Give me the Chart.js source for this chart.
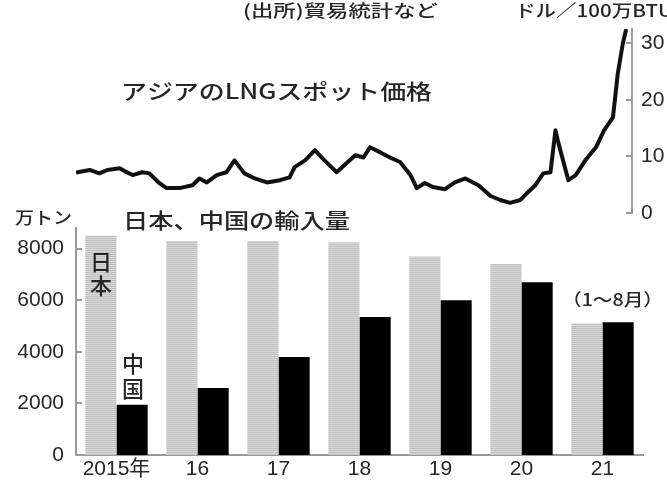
<!DOCTYPE html>
<html>
<head>
<meta charset="utf-8">
<script src="https://cdn.jsdelivr.net/npm/chart.js@4.4.0/dist/chart.umd.min.js"></script>
<style>
  html, body { margin: 0; padding: 0; background: #fff; }
  #wrap { position: relative; width: 667px; height: 486px; overflow: hidden; }
  #wrap canvas { position: absolute; left: 0; top: 0; }
  #price { pointer-events: none; }
</style>
</head>
<body>
<div id="wrap">
  <canvas id="imports" width="667" height="486"></canvas>
  <canvas id="price" width="667" height="486"></canvas>
</div>
<script>
// LNG imports, 10k tonnes
const years = ['2015年', '16', '17', '18', '19', '20', '21'];
const japanImports = [8500, 8300, 8300, 8250, 7700, 7400, 5100];
const chinaImports = [1950, 2600, 3800, 5350, 6000, 6700, 5150];
const importTicks = [0, 2000, 4000, 6000, 8000];

// Asian LNG spot price, $/mmBtu
const priceDates = [
  '2015-01-08', '2015-03-02', '2015-04-15', '2015-05-21', '2015-07-15', '2015-08-07', '2015-09-13', '2015-10-26', '2015-11-28',
  '2016-01-11', '2016-02-14', '2016-04-11', '2016-06-09', '2016-07-10', '2016-08-13', '2016-09-27', '2016-11-10', '2016-12-16',
  '2017-01-30', '2017-03-16', '2017-05-10', '2017-07-08', '2017-08-21', '2017-09-13', '2017-10-30', '2017-12-13',
  '2018-01-26', '2018-03-20', '2018-05-18', '2018-06-13', '2018-07-19', '2018-08-18', '2018-10-04', '2018-11-17',
  '2019-01-01', '2019-02-18', '2019-03-16', '2019-04-22', '2019-05-28', '2019-07-22', '2019-09-05', '2019-10-22', '2019-12-20',
  '2020-02-14', '2020-03-27', '2020-05-10', '2020-06-27', '2020-07-26', '2020-09-02', '2020-10-08', '2020-11-10', '2020-12-02', '2020-12-16',
  '2021-01-30', '2021-03-02', '2021-04-15', '2021-06-02', '2021-07-08', '2021-08-18', '2021-09-09', '2021-10-01', '2021-10-15'
];
const priceValues = [
  7.2, 7.6, 7.0, 7.6, 7.9, 7.4, 6.7, 7.2, 7.0,
  5.3, 4.4, 4.4, 4.9, 6.1, 5.4, 6.7, 7.2, 9.3,
  7.0, 6.1, 5.4, 5.8, 6.3, 8.1, 9.3, 11.1,
  9.3, 7.2, 9.3, 10.2, 9.8, 11.6, 10.7, 9.8,
  9.0, 6.7, 4.4, 5.3, 4.6, 4.2, 5.4, 6.1, 4.9,
  3.0, 2.3, 1.8, 2.3, 3.5, 4.9, 7.0, 7.2, 14.6, 12.3,
  5.8, 6.7, 9.3, 11.6, 14.6, 16.9, 24.6, 29.9, 32.2
];
const priceTicks = [0, 10, 20, 30];

const CJK = '"Noto Sans CJK JP", "Noto Sans", sans-serif';
const NUM = '"Liberation Sans", "Noto Sans CJK JP", Arial, sans-serif';
const TEXT = '#262626';
const AXIS = '#9a9a9a';

const toYear = s => {
  const [y, m, d] = s.split('-').map(Number);
  return y + (m - 1 + (d - 1) / 31) / 12;
};

function stripes() {
  const c = document.createElement('canvas');
  c.width = 1; c.height = 2;
  const g = c.getContext('2d');
  g.fillStyle = '#c2c2c2'; g.fillRect(0, 0, 1, 1);
  g.fillStyle = '#d6d6d6'; g.fillRect(0, 1, 1, 1);
  return g.createPattern(c, 'repeat');
}

// short tick marks pointing into the plot
const innerTicks = {
  id: 'innerTicks',
  afterDraw(chart, args, opts) {
    const scale = chart.scales.y;
    const ctx = chart.ctx;
    const x0 = opts.side === 'right' ? scale.left : scale.right;
    ctx.save();
    ctx.strokeStyle = AXIS;
    ctx.lineWidth = 2;
    scale.ticks.forEach(t => {
      const y = Math.round(scale.getPixelForValue(t.value));
      ctx.beginPath();
      ctx.moveTo(x0, y);
      ctx.lineTo(x0 + opts.dir * 6, y);
      ctx.stroke();
    });
    ctx.restore();
  }
};

function fitText(ctx, text, left, y, width, size) {
  ctx.font = '500 ' + size + 'px ' + CJK;
  const w = ctx.measureText(text).width;
  ctx.save();
  ctx.translate(left, y);
  ctx.scale(width / w, 1);
  ctx.textAlign = 'left';
  ctx.fillText(text, 0, 0);
  ctx.restore();
}

function vertText(ctx, text, x, y, step, size) {
  ctx.font = '500 ' + size + 'px ' + CJK;
  ctx.textAlign = 'center';
  [...text].forEach((ch, i) => ctx.fillText(ch, x, y + i * step));
}

const notes = {
  id: 'notes',
  afterDraw(chart) {
    const ctx = chart.ctx;
    ctx.save();
    ctx.fillStyle = TEXT;
    ctx.textBaseline = 'middle';
    fitText(ctx, '(出所)貿易統計など', 243, 11, 195, 17);
    fitText(ctx, 'ドル／100万BTU', 515, 11, 158, 17);
    fitText(ctx, 'アジアのLNGスポット価格', 121, 91, 311, 21);
    fitText(ctx, '万トン', 15, 218, 57, 17);
    fitText(ctx, '日本、中国の輸入量', 123, 220, 227, 21);
    fitText(ctx, '（1〜8月）', 562, 300, 101, 17);
    vertText(ctx, '日本', 101, 262, 24, 22);
    vertText(ctx, '中国', 133, 364, 25, 22);
    ctx.restore();
  }
};

const numFont = { family: NUM, size: 21 };

new Chart(document.getElementById('imports'), {
  type: 'bar',
  data: {
    labels: years,
    datasets: [
      { label: '日本', data: japanImports, backgroundColor: stripes(), categoryPercentage: 0.77, barPercentage: 1 },
      { label: '中国', data: chinaImports, backgroundColor: '#000', categoryPercentage: 0.77, barPercentage: 1 }
    ]
  },
  options: {
    responsive: false,
    animation: false,
    events: [],
    layout: { padding: { left: 0, top: 228, right: 24, bottom: 0 } },
    plugins: {
      legend: { display: false },
      tooltip: { enabled: false },
      innerTicks: { side: 'left', dir: 1 }
    },
    scales: {
      x: {
        grid: { display: false, drawTicks: false },
        border: { color: AXIS, width: 2 },
        ticks: { color: TEXT, font: numFont, padding: 2, maxRotation: 0 },
        afterFit: s => { s.height = 31; }
      },
      y: {
        min: 0,
        max: 8800,
        afterBuildTicks: s => { s.ticks = importTicks.map(v => ({ value: v })); },
        grid: { display: false, drawTicks: false },
        border: { color: AXIS, width: 2 },
        ticks: { color: TEXT, font: numFont, padding: 12, callback: v => String(v) },
        afterFit: s => { s.width = 76; }
      }
    }
  },
  plugins: [innerTicks]
});

new Chart(document.getElementById('price'), {
  type: 'line',
  data: {
    datasets: [{
      data: priceDates.map((d, i) => ({ x: toYear(d), y: priceValues[i] })),
      borderColor: '#111',
      borderWidth: 4,
      borderJoinStyle: 'round',
      borderCapStyle: 'round',
      pointRadius: 0,
      tension: 0
    }]
  },
  options: {
    responsive: false,
    animation: false,
    events: [],
    layout: { padding: { left: 76, top: 29, right: 0, bottom: 273 } },
    plugins: {
      legend: { display: false },
      tooltip: { enabled: false },
      innerTicks: { side: 'right', dir: -1 }
    },
    scales: {
      x: { type: 'linear', min: 2015, max: 2021.864, display: false },
      y: {
        position: 'right',
        min: 0,
        max: 32.5,
        afterBuildTicks: s => { s.ticks = priceTicks.map(v => ({ value: v })); },
        grid: { display: false, drawTicks: false },
        border: { color: AXIS, width: 2 },
        ticks: { color: TEXT, font: numFont, padding: 9, callback: v => String(v) },
        afterFit: s => { s.width = 35; }
      }
    }
  },
  plugins: [innerTicks, notes]
});
</script>
</body>
</html>
